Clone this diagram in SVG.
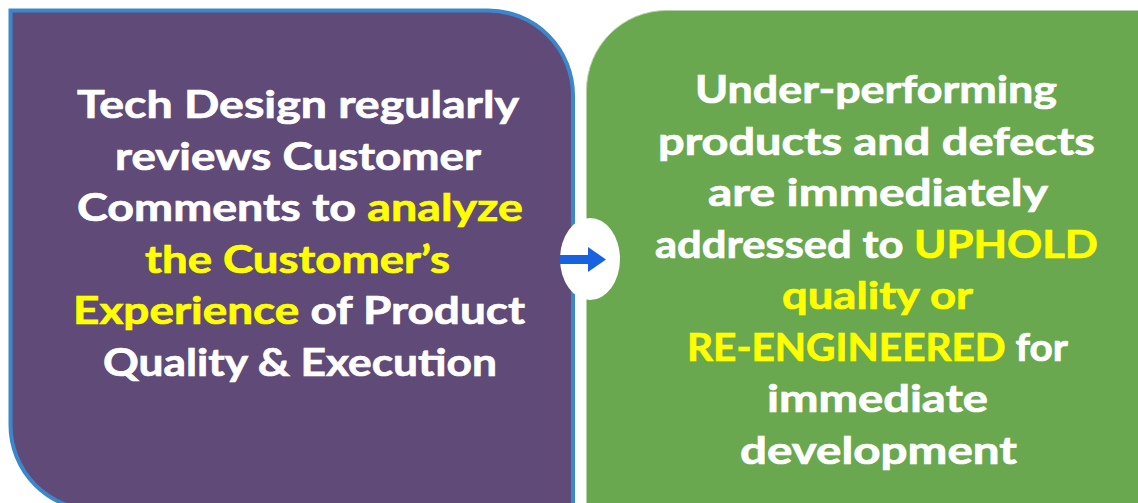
<svg xmlns="http://www.w3.org/2000/svg" width="1138" height="503" viewBox="0 0 1138 503">
<style>
.t{font-family:"Century Gothic","Lato","DejaVu Sans",sans-serif;font-weight:bold;font-size:38px;fill:#FFFFFF;stroke:#FFFFFF;stroke-width:0.7px;text-anchor:middle}
.y{fill:#FFFF00;stroke:#FFFF00}
</style>
<rect x="0" y="0" width="1138" height="503" fill="#FFFFFF"/>
<g id="left-box">
<path d="M10.5,10.5 H488 A85,85 0 0 1 573,95.5 V510 H95.5 A85,85 0 0 1 10.5,425 Z" fill="#5F4A78" stroke="#3C87CB" stroke-width="4"/>
<text class="t" x="298" y="118" textLength="442" lengthAdjust="spacingAndGlyphs">Tech Design regularly</text>
<text class="t" x="298" y="170" textLength="366" lengthAdjust="spacingAndGlyphs">reviews Customer</text>
<text class="t" x="300" y="221" textLength="446" lengthAdjust="spacingAndGlyphs">Comments to <tspan class="y">analyze</tspan></text>
<text class="t y" x="297.5" y="273" textLength="305" lengthAdjust="spacingAndGlyphs">the Customer’s</text>
<text class="t" x="299" y="324" textLength="452" lengthAdjust="spacingAndGlyphs"><tspan class="y">Experience</tspan> of Product</text>
<text class="t" x="300" y="376" textLength="394" lengthAdjust="spacingAndGlyphs">Quality &amp; Execution</text>
</g>
<g id="right-box">
<path d="M586.5,90.5 A80,80 0 0 1 666.5,10.5 H1150 V515 H586.5 Z" fill="#6AA84F" stroke="#B5D4A3" stroke-width="1"/>
<text class="t" x="876" y="103" textLength="362" lengthAdjust="spacingAndGlyphs">Under-performing</text>
<text class="t" x="876.5" y="155" textLength="437" lengthAdjust="spacingAndGlyphs">products and defects</text>
<text class="t" x="878" y="206" textLength="340" lengthAdjust="spacingAndGlyphs">are immediately</text>
<text class="t" x="876.5" y="258" textLength="443" lengthAdjust="spacingAndGlyphs">addressed to <tspan class="y">UPHOLD</tspan></text>
<text class="t y" x="877.5" y="309" textLength="191" lengthAdjust="spacingAndGlyphs">quality or</text>
<text class="t" x="877.5" y="361" textLength="381" lengthAdjust="spacingAndGlyphs"><tspan class="y">RE-ENGINEERED</tspan> for</text>
<text class="t" x="877.5" y="412" textLength="221" lengthAdjust="spacingAndGlyphs">immediate</text>
<text class="t" x="878.5" y="464" textLength="277" lengthAdjust="spacingAndGlyphs">development</text>
</g>
<g id="connectors">
<ellipse cx="590" cy="259" rx="30" ry="41" fill="#FFFFFF"/>
<rect x="560" y="255" width="30" height="9" fill="#1762E0"/>
<polygon points="588,247 606,259.5 588,272" fill="#1762E0"/>
</g>
</svg>
